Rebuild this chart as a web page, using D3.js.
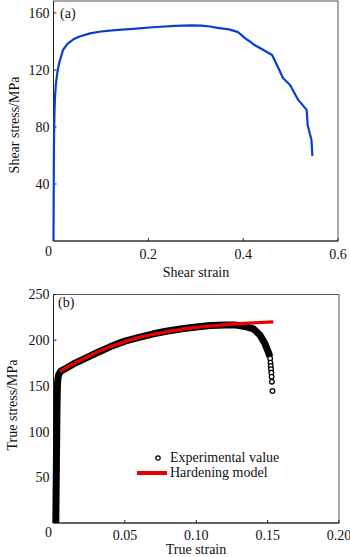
<!DOCTYPE html>
<html>
<head>
<meta charset="utf-8">
<script src="https://cdn.jsdelivr.net/npm/d3@7"></script>
<style>
  body { margin: 0; background: #fff; }
  text { font-family: "Liberation Serif", "Times New Roman", serif; fill: #111; }
</style>
</head>
<body>
<div id="chart"></div>
<script>
// ---- data (a) shear test ----
let shearStrain = [0, 0.0005, 0.001, 0.002, 0.003, 0.005, 0.008, 0.012, 0.02, 0.03, 0.042, 0.055, 0.077, 0.1, 0.13, 0.167, 0.21, 0.256, 0.29, 0.312, 0.33, 0.346, 0.37, 0.388, 0.395, 0.403, 0.414, 0.424, 0.44, 0.461, 0.472, 0.484, 0.499, 0.516, 0.534, 0.536, 0.544, 0.546]
let shearStress = [0, 40, 70, 90, 100, 110, 118, 125, 134, 138.5, 141.5, 143.5, 145.7, 147, 148, 148.8, 150, 151, 151.3, 151.1, 150.5, 149.5, 148.5, 146.7, 145, 142.5, 140, 137.5, 134.5, 130.5, 123, 114.4, 109.5, 99, 92, 81.4, 70.9, 59.6]
let shearXTicks = [0, 0.2, 0.4, 0.6]
let shearYTicks = [40, 80, 120, 160]

// ---- data (b) tensile test ----
let expStrain = [0.0016, 0.0018, 0.002, 0.0022, 0.0024, 0.0026, 0.0028, 0.0031, 0.0036, 0.005, 0.01, 0.014, 0.02, 0.03, 0.04, 0.05, 0.06, 0.07, 0.08, 0.09, 0.1, 0.11, 0.12, 0.128, 0.134, 0.14, 0.1446, 0.148, 0.1504, 0.1516]
let expStress = [0, 30, 60, 90, 120, 140, 152, 158, 162, 166, 170.5, 174, 178.5, 186, 193, 199, 203, 207, 210, 212.5, 214.5, 216, 216.5, 216.5, 215, 212.5, 205.7, 196.6, 187.4, 182]
let tailStrain = [0.1518, 0.152, 0.1522, 0.1524, 0.1526, 0.1528, 0.153, 0.1534]
let tailStress = [180, 175.4, 171.8, 168.2, 164.4, 160, 154.6, 144.4]
let modelStrain = [0.0046, 0.01, 0.02, 0.03, 0.04, 0.05, 0.06, 0.07, 0.08, 0.09, 0.1, 0.11, 0.12, 0.13, 0.14, 0.154]
let modelStress = [166, 171, 179, 186.5, 193, 198.5, 203, 206.5, 209.5, 212, 214, 215.5, 217, 218, 219, 220]
let trueXTicks = [0, 0.05, 0.1, 0.15, 0.2]
let trueYTicks = [50, 100, 150, 200, 250]

let svg = d3.select("#chart").append("svg")
    .attr("width", 350)
    .attr("height", 557)

function frame(g, x, y) {
    let [x0, x1] = x.range()
    let [y0, y1] = y.range()
    g.append("rect")
        .attr("x", x0).attr("y", y1)
        .attr("width", x1 - x0).attr("height", y0 - y1)
        .attr("fill", "none")
        .attr("stroke", "#555")
        .attr("stroke-width", 1)
    g.append("line")
        .attr("x1", x0).attr("x2", x0).attr("y1", y0).attr("y2", y1)
        .attr("stroke", "#222")
    g.append("line")
        .attr("x1", x0).attr("x2", x1).attr("y1", y0).attr("y2", y0)
        .attr("stroke", "#222")
}

function axes(g, x, y, xt, yt, xfmt, yfmt, xBase) {
    let [x0] = x.range()
    let [y0] = y.range()
    // inward tick marks
    g.selectAll(".xt").data(xt.filter(d => d > 0)).enter().append("line")
        .attr("x1", d => x(d)).attr("x2", d => x(d))
        .attr("y1", y0).attr("y2", y0 - 3)
        .attr("stroke", "#222")
    g.selectAll(".yt").data(yt).enter().append("line")
        .attr("x1", x0).attr("x2", x0 + 3)
        .attr("y1", d => y(d)).attr("y2", d => y(d))
        .attr("stroke", "#222")
    g.selectAll(".xl").data(xt).enter().append("text")
        .attr("x", d => d === 0 ? x(d) - 5 : x(d))
        .attr("y", d => d === 0 ? xBase - 3 : xBase)
        .attr("text-anchor", "middle")
        .style("font-size", "14px")
        .text(xfmt)
    g.selectAll(".yl").data(yt).enter().append("text")
        .attr("x", x0 - 4)
        .attr("y", d => y(d))
        .attr("dy", "0.35em")
        .attr("text-anchor", "end")
        .style("font-size", "14px")
        .text(yfmt)
}

// ===== (a) =====
let xa = d3.scaleLinear().domain([0, 0.6]).range([53.5, 338])
let ya = d3.scaleLinear().domain([0, 168.4]).range([241, 1])
let ga = svg.append("g")
frame(ga, xa, ya)
axes(ga, xa, ya, shearXTicks, shearYTicks, d => d === 0 ? "0" : d3.format(".1f")(d), d => d, 259)

let shear = shearStrain.map((s, i) => ({ s: s, t: shearStress[i] }))
ga.append("path")
    .datum(shear)
    .attr("fill", "none")
    .attr("stroke", "#0a3fcc")
    .attr("stroke-width", 2.2)
    .attr("stroke-linejoin", "round")
    .attr("d", d3.line().x(d => xa(d.s)).y(d => ya(d.t)))

ga.append("text").attr("x", 60).attr("y", 18).style("font-size", "14px").text("(a)")
ga.append("text").attr("x", 196).attr("y", 277).attr("text-anchor", "middle")
    .style("font-size", "14px").text("Shear strain")
ga.append("text").attr("transform", "translate(19,125)rotate(-90)").attr("text-anchor", "middle")
    .style("font-size", "14px").text("Shear stress/MPa")

// ===== (b) =====
let xb = d3.scaleLinear().domain([0, 0.2]).range([53.5, 339])
let yb = d3.scaleLinear().domain([0, 250]).range([523, 294.5])
let gb = svg.append("g")
frame(gb, xb, yb)
axes(gb, xb, yb, trueXTicks, trueYTicks, d => d === 0 ? "0" : d3.format(".2f")(d), d => d, 540)

let exp = expStrain.map((s, i) => ({ s: s, t: expStress[i] }))
let tail = tailStrain.map((s, i) => ({ s: s, t: tailStress[i] }))
let model = modelStrain.map((s, i) => ({ s: s, t: modelStress[i] }))

// dense markers read as a solid band
gb.append("path")
    .datum(exp)
    .attr("fill", "none")
    .attr("stroke", "#000")
    .attr("stroke-width", 7)
    .attr("stroke-linejoin", "round")
    .attr("d", d3.line().x(d => xb(d.s)).y(d => yb(d.t)))

gb.selectAll(".tail").data(tail).enter().append("circle")
    .attr("cx", d => xb(d.s)).attr("cy", d => yb(d.t))
    .attr("r", 2.3)
    .attr("fill", "#fff")
    .attr("stroke", "#000")
    .attr("stroke-width", 1.3)

gb.append("path")
    .datum(model)
    .attr("fill", "none")
    .attr("stroke", "#e60000")
    .attr("stroke-width", 3.3)
    .attr("stroke-linecap", "butt")
    .attr("d", d3.line().x(d => xb(d.s)).y(d => yb(d.t)))

// legend
gb.append("circle").attr("cx", 158).attr("cy", 458).attr("r", 2.2)
    .attr("fill", "#fff").attr("stroke", "#000").attr("stroke-width", 1.2)
gb.append("text").attr("x", 170).attr("y", 462).style("font-size", "14px").text("Experimental value")
gb.append("line").attr("x1", 137).attr("x2", 167).attr("y1", 473).attr("y2", 473)
    .attr("stroke", "#e60000").attr("stroke-width", 4)
gb.append("text").attr("x", 170).attr("y", 477).style("font-size", "14px").text("Hardening model")

gb.append("text").attr("x", 58).attr("y", 307).style("font-size", "14px").text("(b)")
gb.append("text").attr("x", 196).attr("y", 554).attr("text-anchor", "middle")
    .style("font-size", "14px").text("True strain")
gb.append("text").attr("transform", "translate(17,405)rotate(-90)").attr("text-anchor", "middle")
    .style("font-size", "14px").text("True stress/MPa")
</script>
</body>
</html>
